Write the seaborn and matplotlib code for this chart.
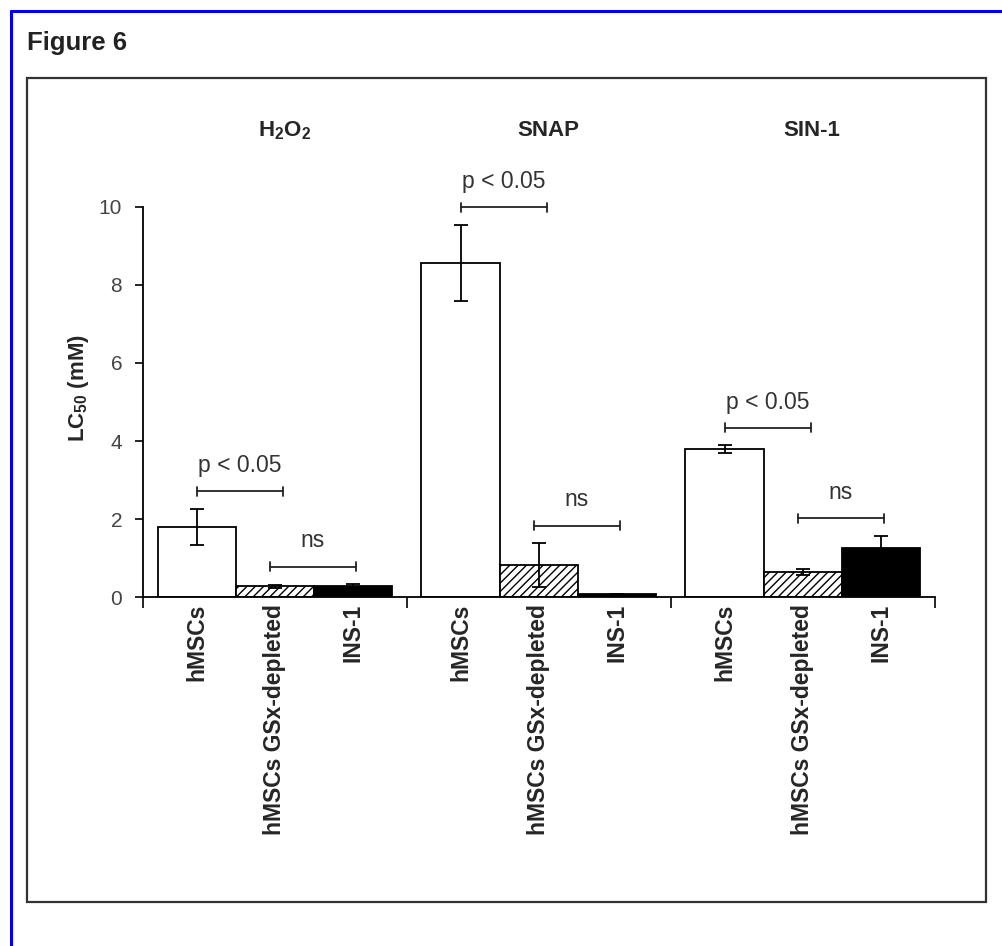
import numpy as np
import pandas as pd
import matplotlib
matplotlib.use('Agg')
import matplotlib.pyplot as plt
import matplotlib.transforms as mtransforms
from matplotlib.patches import Rectangle
from matplotlib.lines import Line2D
import seaborn as sns

# data (LC50 in mM, mean and error)
treatments = ['H2O2', 'SNAP', 'SIN-1']
treatment_titles = [r'H$_2$O$_2$', 'SNAP', 'SIN-1']
cells = ['hMSCs', 'hMSCs GSx-depleted', 'INS-1']
lc50_hmsc = [1.80, 8.57, 3.79]
lc50_gsx = [0.27, 0.82, 0.64]
lc50_ins = [0.29, 0.08, 1.26]
err_hmsc = [0.46, 0.97, 0.10]
err_gsx = [0.05, 0.56, 0.08]
err_ins = [0.04, 0.00, 0.31]
sig_labels = ['p < 0.05', 'ns']

means = [lc50_hmsc, lc50_gsx, lc50_ins]
errs = [err_hmsc, err_gsx, err_ins]

df = pd.DataFrame({
    'treatment': np.tile(treatments, len(cells)),
    'cell': np.repeat(cells, len(treatments)),
    'lc50': np.concatenate(means),
})

sns.set_style('ticks')
plt.rcParams['font.family'] = ['Liberation Sans', 'DejaVu Sans']
plt.rcParams['mathtext.fontset'] = 'custom'
plt.rcParams['mathtext.rm'] = 'Liberation Sans'
plt.rcParams['mathtext.bf'] = 'Liberation Sans:bold'
plt.rcParams['mathtext.default'] = 'regular'
plt.rcParams['hatch.linewidth'] = 1.0

fig = plt.figure(figsize=(10.02, 9.46), dpi=100)
ax = fig.add_axes([0.1427, 0.3689, 0.7904, 0.4123])

sns.barplot(data=df, x='treatment', y='lc50', hue='cell', order=treatments,
            hue_order=cells,
            palette={'hMSCs': 'white', 'hMSCs GSx-depleted': 'white', 'INS-1': 'black'},
            width=0.89, gap=0, saturation=1, edgecolor='black', linewidth=1.3,
            errorbar=None, legend=False, ax=ax)

bar_conts = list(ax.containers)
for p in bar_conts[1]:
    p.set_hatch('////')

# error bars on each bar
centers = []
for k, cont in enumerate(bar_conts):
    xs = [p.get_x() + p.get_width() / 2 for p in cont]
    centers.append(xs)
    ax.errorbar(xs, means[k], yerr=errs[k], fmt='none', ecolor='black',
                elinewidth=1.3, capsize=5, capthick=1.3, zorder=5)

# significance brackets
cap = 0.12
for g in range(len(treatments)):
    top = [means[k][g] + errs[k][g] for k in range(3)]
    pairs = [(centers[0][g], centers[1][g] + 0.03, max(top[0], top[1])),
             (centers[1][g] - 0.02, centers[2][g] + 0.01, max(top[1], top[2]))]
    for (x0, x1, t), lab in zip(pairs, sig_labels):
        y = t + 0.45
        ax.plot([x0, x1], [y, y], color='#222222', lw=1.3, clip_on=False)
        ax.plot([x0, x0], [y - cap, y + cap], color='#222222', lw=1.3, clip_on=False)
        ax.plot([x1, x1], [y - cap, y + cap], color='#222222', lw=1.3, clip_on=False)
        ax.text((x0 + x1) / 2, y + 0.66, lab, ha='center', va='center',
                fontsize=16.5, color='#333333')

ax.set_xlim(-0.5, 2.5)
ax.set_ylim(0, 10)
ax.set_yticks(range(0, 11, 2))
sns.despine(ax=ax)
for s in ['left', 'bottom']:
    ax.spines[s].set_linewidth(1.3)
    ax.spines[s].set_color('black')

ax.tick_params(axis='y', length=6, width=1.2, color='black', labelsize=15,
               labelcolor='#444444', pad=9)

allx = [centers[k][g] for g in range(3) for k in range(3)]
ax.set_xticks(allx)
ax.set_xticklabels(cells * 3, rotation=90, fontweight='bold', fontsize=16.5)
ax.tick_params(axis='x', which='major', length=0, pad=5)
ax.set_xticks([-0.5, 0.5, 1.5, 2.5], minor=True)
ax.tick_params(axis='x', which='minor', length=8, width=1.2, color='black',
               direction='out')

ax.set_xlabel('')
ax.set_ylabel(r'LC$_{50}$ (mM)', fontweight='bold', fontsize=16)
ax.yaxis.set_label_coords(-0.066, 0.535)

trans = mtransforms.blended_transform_factory(ax.transData, fig.transFigure)
for g, title in enumerate(treatment_titles):
    ax.text(g + 0.035, 1 - 131 / 946, title, transform=trans, ha='center',
            va='center', fontsize=16, fontweight='bold')

fig.text(27 / 1002, 1 - 43 / 946, 'Figure 6', ha='left', va='center',
         fontsize=18.5, fontweight='bold', color='#222222')

# inner frame and outer blue border
fig.add_artist(Rectangle((27 / 1002, 1 - 902 / 946), (986 - 27) / 1002,
                         (902 - 78) / 946, transform=fig.transFigure,
                         fill=False, ec='#333333', lw=1.6))
fig.add_artist(Line2D([11 / 1002, 11 / 1002], [0, 1 - 11 / 946],
                      transform=fig.transFigure, color='#0000ee', lw=2.2))
fig.add_artist(Line2D([11 / 1002, 1], [1 - 11 / 946, 1 - 11 / 946],
                      transform=fig.transFigure, color='#0000ee', lw=2.2))

fig.savefig('out.png', dpi=100)
